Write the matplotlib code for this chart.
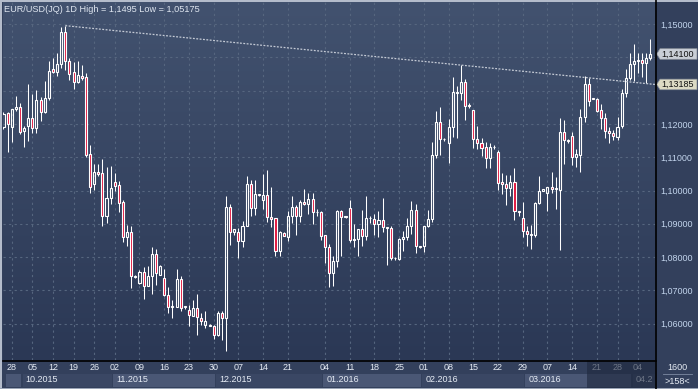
import numpy as np
import matplotlib.pyplot as plt
from matplotlib.patches import Rectangle, Polygon
from matplotlib.lines import Line2D
import matplotlib.transforms as mtransforms
from matplotlib.colors import LinearSegmentedColormap

plt.rcParams['font.family'] = ['Liberation Sans', 'DejaVu Sans']

# EUR/USD daily bars (158 visible)
open_ = [1.1190, 1.1232, 1.1192, 1.1244, 1.1250, 1.1178, 1.1195, 1.1217, 1.1187, 1.1272,
         1.1237, 1.1277, 1.1364, 1.1357, 1.1380, 1.1475, 1.1389, 1.1355, 1.1327, 1.1345,
         1.1340, 1.1109, 1.1019, 1.1057, 1.1052, 1.0922, 1.0977, 1.1027, 1.1017, 1.0965,
         1.0859, 1.0876, 1.0740, 1.0722, 1.0755, 1.0714, 1.0742, 1.0810, 1.0747, 1.0737,
         1.0687, 1.0649, 1.0649, 1.0734, 1.0650, 1.0642, 1.0624, 1.0647, 1.0617, 1.0597,
         1.0597, 1.0592, 1.0567, 1.0632, 1.0617, 1.0950, 1.0874, 1.0875, 1.0847, 1.0892,
         1.1020, 1.0947, 1.0988, 1.0972, 1.0986, 1.0920, 1.0917, 1.0817, 1.0872, 1.0859,
         1.0924, 1.0950, 1.0924, 1.0965, 1.0959, 1.0974, 1.0934, 1.0934, 1.0867, 1.0830,
         1.0752, 1.0789, 1.0937, 1.0920, 1.0947, 1.0852, 1.0854, 1.0884, 1.0862, 1.0916,
         1.0914, 1.0900, 1.0912, 1.0886, 1.0887, 1.0796, 1.0794, 1.0854, 1.0860, 1.0894,
         1.0942, 1.0830, 1.0832, 1.0894, 1.0914, 1.1107, 1.1205, 1.1154, 1.1144, 1.1190,
         1.1292, 1.1292, 1.1326, 1.1257, 1.1242, 1.1154, 1.1142, 1.1130, 1.1097, 1.1132,
         1.1115, 1.1025, 1.1020, 1.1007, 1.1025, 1.0938, 1.0917, 1.0879, 1.0865, 1.0865,
         1.0962, 1.1000, 1.0992, 1.1012, 1.1004, 1.1002, 1.1177, 1.1152, 1.1165, 1.1100,
         1.1107, 1.1222, 1.1320, 1.1277, 1.1275, 1.1242, 1.1217, 1.1180, 1.1174, 1.1160,
         1.1195, 1.1292, 1.1337, 1.1380, 1.1390, 1.1392, 1.1384, 1.1397]
high = [1.1236, 1.1236, 1.1245, 1.1284, 1.1262, 1.1195, 1.1320, 1.1290, 1.1302, 1.1282,
        1.1330, 1.1389, 1.1397, 1.1412, 1.1490, 1.1495, 1.1397, 1.1387, 1.1389, 1.1377,
        1.1352, 1.1137, 1.1080, 1.1080, 1.1094, 1.1072, 1.1074, 1.1052, 1.1030, 1.0970,
        1.0897, 1.0894, 1.0745, 1.0762, 1.0770, 1.0772, 1.0830, 1.0824, 1.0777, 1.0764,
        1.0709, 1.0672, 1.0764, 1.0742, 1.0654, 1.0657, 1.0672, 1.0689, 1.0632, 1.0639,
        1.0599, 1.0597, 1.0637, 1.0637, 1.0984, 1.0960, 1.0884, 1.0887, 1.0907, 1.1044,
        1.1032, 1.1032, 1.0991, 1.1050, 1.1062, 1.1012, 1.0917, 1.0877, 1.0874, 1.0939,
        1.0984, 1.0957, 1.0970, 1.1005, 1.0994, 1.0992, 1.0945, 1.0939, 1.0867, 1.0839,
        1.0802, 1.0942, 1.0942, 1.0924, 1.0972, 1.0899, 1.0884, 1.0942, 1.0984, 1.0922,
        1.0930, 1.0939, 1.0977, 1.0890, 1.0892, 1.0800, 1.0857, 1.0877, 1.0917, 1.0969,
        1.0960, 1.0834, 1.0894, 1.0942, 1.1145, 1.1239, 1.1250, 1.1157, 1.1215, 1.1340,
        1.1314, 1.1377, 1.1334, 1.1262, 1.1242, 1.1194, 1.1157, 1.1147, 1.1142, 1.1136,
        1.1122, 1.1054, 1.1047, 1.1047, 1.1067, 1.0938, 1.0964, 1.0894, 1.0897, 1.0964,
        1.1044, 1.1006, 1.1012, 1.1057, 1.1042, 1.1217, 1.1212, 1.1155, 1.1175, 1.1124,
        1.1244, 1.1344, 1.1337, 1.1278, 1.1277, 1.1259, 1.1232, 1.1190, 1.1182, 1.1222,
        1.1304, 1.1364, 1.1414, 1.1440, 1.1412, 1.1412, 1.1412, 1.1455]
low = [1.1186, 1.1117, 1.1147, 1.1240, 1.1170, 1.1132, 1.1150, 1.1172, 1.1172, 1.1210,
       1.1232, 1.1272, 1.1354, 1.1345, 1.1367, 1.1362, 1.1332, 1.1305, 1.1324, 1.1332,
       1.1100, 1.0994, 1.1002, 1.1045, 1.0894, 1.0902, 1.0959, 1.1000, 1.0934, 1.0844,
       1.0832, 1.0707, 1.0736, 1.0720, 1.0674, 1.0714, 1.0690, 1.0715, 1.0745, 1.0682,
       1.0632, 1.0617, 1.0649, 1.0637, 1.0644, 1.0592, 1.0622, 1.0567, 1.0597, 1.0587,
       1.0593, 1.0554, 1.0564, 1.0552, 1.0517, 1.0835, 1.0867, 1.0797, 1.0830, 1.0892,
       1.0922, 1.0927, 1.0984, 1.0945, 1.0904, 1.0890, 1.0802, 1.0802, 1.0862, 1.0847,
       1.0902, 1.0867, 1.0904, 1.0955, 1.0930, 1.0899, 1.0924, 1.0852, 1.0782, 1.0709,
       1.0712, 1.0769, 1.0802, 1.0917, 1.0845, 1.0830, 1.0802, 1.0832, 1.0852, 1.0902,
       1.0867, 1.0860, 1.0874, 1.0775, 1.0792, 1.0792, 1.0790, 1.0817, 1.0852, 1.0870,
       1.0812, 1.0828, 1.0814, 1.0890, 1.0904, 1.1097, 1.1107, 1.1150, 1.1084, 1.1160,
       1.1159, 1.1272, 1.1212, 1.1247, 1.1127, 1.1124, 1.1104, 1.1069, 1.1067, 1.1126,
       1.1002, 1.0989, 1.0957, 1.0985, 1.0910, 1.0924, 1.0859, 1.0832, 1.0824, 1.0859,
       1.0960, 1.0999, 1.0937, 1.0992, 1.0945, 1.0822, 1.1080, 1.1144, 1.1077, 1.1070,
       1.1055, 1.1207, 1.1254, 1.1275, 1.1235, 1.1185, 1.1159, 1.1144, 1.1152, 1.1152,
       1.1187, 1.1282, 1.1332, 1.1330, 1.1354, 1.1342, 1.1324, 1.1392]
close = [1.1230, 1.1200, 1.1245, 1.1250, 1.1177, 1.1188, 1.1217, 1.1187, 1.1272, 1.1237,
         1.1277, 1.1359, 1.1357, 1.1380, 1.1475, 1.1390, 1.1350, 1.1327, 1.1347, 1.1337,
         1.1107, 1.1012, 1.1057, 1.1050, 1.0922, 1.0977, 1.1007, 1.1015, 1.0962, 1.0859,
         1.0876, 1.0742, 1.0743, 1.0755, 1.0712, 1.0744, 1.0810, 1.0752, 1.0774, 1.0685,
         1.0649, 1.0652, 1.0734, 1.0647, 1.0652, 1.0627, 1.0647, 1.0620, 1.0607, 1.0607,
         1.0594, 1.0567, 1.0632, 1.0617, 1.0950, 1.0875, 1.0884, 1.0847, 1.0892, 1.1020,
         1.0947, 1.0989, 1.0990, 1.0986, 1.0920, 1.0915, 1.0817, 1.0874, 1.0864, 1.0924,
         1.0950, 1.0922, 1.0965, 1.0959, 1.0974, 1.0934, 1.0936, 1.0862, 1.0830, 1.0752,
         1.0789, 1.0937, 1.0920, 1.0922, 1.0850, 1.0855, 1.0884, 1.0862, 1.0917, 1.0918,
         1.0900, 1.0912, 1.0889, 1.0890, 1.0797, 1.0798, 1.0854, 1.0860, 1.0894, 1.0942,
         1.0832, 1.0832, 1.0894, 1.0914, 1.1107, 1.1205, 1.1154, 1.1156, 1.1190, 1.1295,
         1.1296, 1.1326, 1.1255, 1.1254, 1.1154, 1.1142, 1.1129, 1.1097, 1.1130, 1.1130,
         1.1024, 1.1019, 1.1007, 1.1025, 1.0937, 1.0934, 1.0877, 1.0869, 1.0870, 1.0962,
         1.1000, 1.1004, 1.1012, 1.1005, 1.1008, 1.1177, 1.1152, 1.1150, 1.1102, 1.1110,
         1.1222, 1.1320, 1.1270, 1.1276, 1.1240, 1.1217, 1.1180, 1.1174, 1.1165, 1.1192,
         1.1292, 1.1337, 1.1380, 1.1390, 1.1392, 1.1384, 1.1397, 1.1410]

# week ticks (bar index of each Monday) and their day labels
tick_idx = [2, 7, 12, 17, 22, 27, 33, 39, 45, 51, 57, 63, 69, 78, 84, 90, 96, 102,
            108, 114, 120, 126, 132, 138, 144, 149, 154]
tick_lbl = ['28', '05', '12', '19', '26', '02', '09', '16', '23', '30', '07', '14', '21',
            '04', '11', '18', '25', '01', '08', '15', '22', '29', '07', '14', '21', '28', '04']

# first bar of each month (last label is cut off at the chart edge)
month_start = [1, 5, 27, 52, 78, 102, 127, 153]
month_lbl = ['', '10.2015', '11.2015', '12.2015', '01.2016', '02.2016', '03.2016', '04.2']

# trend line from the October high, and the right-side price tags
trend_x = [15, 158.1]
trend_y = [1.1495, 1.13185]
tag_values = [1.14100, 1.13185]
tag_colors = ['#c9ced6', '#dcdac4']
dim_from = 142  # bars beyond this are shaded on the time axis

title = 'EUR/USD(JQ) 1D High = 1,1495 Low = 1,05175'

W, H = 698, 389
fig = plt.figure(figsize=(W / 100, H / 100), dpi=100, facecolor='#33405c')
ax = fig.add_axes([3 / W, 29 / H, 652 / W, 358 / H])
xlim = (-0.12, 158.1)
ylim = (1.04910, 1.15661)

# background gradient
grad = np.linspace(0, 1, 256).reshape(-1, 1)
cmap = LinearSegmentedColormap.from_list('bg', ['#2b3855', '#42526f'])
ax.imshow(grad, extent=[xlim[0], xlim[1], ylim[0], ylim[1]], origin='lower',
          aspect='auto', cmap=cmap, zorder=0)
ax.set_xlim(*xlim)
ax.set_ylim(*ylim)

yt = np.arange(1.06, 1.1505, 0.01)
ax.set_yticks(yt)
# the 1,14000 / 1,13000 labels sit under the price tags
ax.set_yticklabels(['' if abs(v - 1.14) < 1e-6 or abs(v - 1.13) < 1e-6
                    else f'{v:.5f}'.replace('.', ',') for v in yt])
ax.set_xticks(tick_idx)
ax.set_axisbelow(True)
ax.grid(color='#56667f', linestyle=(0, (2, 3)), linewidth=0.8)
ax.yaxis.tick_right()
ax.tick_params(axis='y', length=0, pad=4, labelsize=6.5, labelcolor='#c2d4ec')
ax.tick_params(axis='x', length=0, labelbottom=False)
for s in ax.spines.values():
    s.set_visible(False)

# candles
x = np.arange(len(close))
o = np.array(open_)
h = np.array(high)
l = np.array(low)
c = np.array(close)
up = c >= o
top = np.maximum(o, c)
bot = np.minimum(o, c)
body = np.maximum(top - bot, 0.00004)
ax.vlines(x, top, h, color='white', lw=0.75, zorder=3)
ax.vlines(x, l, bot, color='white', lw=0.75, zorder=3)
ax.bar(x[up], body[up], bottom=bot[up], width=0.5, facecolor='none',
       edgecolor='white', linewidth=0.8, zorder=4)
ax.bar(x[~up], body[~up], bottom=bot[~up], width=0.5, facecolor='#e0143c',
       edgecolor='white', linewidth=0.8, zorder=4)

ax.plot(trend_x, trend_y, color='#c5cbd6', lw=0.9, linestyle=(0, (1.5, 1.2)), zorder=5)

# price tags on the right axis
trans = mtransforms.blended_transform_factory(ax.transAxes, ax.transData)
hh = 0.00159
for val, fc in zip(tag_values, tag_colors):
    pts = [(1.0026, val), (1.0077, val + hh), (1.0644, val + hh), (1.0644, val - hh), (1.0077, val - hh)]
    ax.add_patch(Polygon(pts, closed=True, transform=trans, facecolor=fc, edgecolor='#8a909a',
                         lw=0.5, clip_on=False, zorder=10))
    ax.text(1.0092, val, f'{val:.5f}'.replace('.', ','), transform=trans, ha='left',
            va='center', fontsize=6.5, color='#111111', clip_on=False, zorder=11)

fig.text(4 / W, 1 - 9 / H, title, ha='left', va='center', fontsize=6.6, color='#dfe6f0')

# time axis strip
axb = fig.add_axes([3 / W, 0, 652 / W, 29 / H], sharex=ax)
axb.set_ylim(0, 29)
axb.axis('off')
box_colors = ['#4a5775', '#3a4764']
ends = month_start[1:] + [170]
for k, (s, e, lbl) in enumerate(zip(month_start, ends, month_lbl)):
    axb.add_patch(Rectangle((s - 0.5 + 0.15, 2), e - s - 0.3, 13,
                            facecolor=box_colors[k % 2], edgecolor='none', zorder=1))
    if lbl:
        axb.text(s - 0.5 + 0.9, 9.5, lbl, ha='left', va='center', fontsize=6.5,
                 color='#e6ecf5', zorder=2, clip_on=True)
for i, lbl in zip(tick_idx, tick_lbl):
    axb.text(i, 21, lbl, ha='center', va='center', fontsize=6.5, color='#e6ecf5', zorder=2)
axb.add_patch(Rectangle((dim_from - 0.4, 0), 30, 29, facecolor='#1e283d', alpha=0.6,
                        edgecolor='none', zorder=5))
axb.set_xlim(*xlim)

# frame lines and corner info
fig.add_artist(Line2D([3 / W, 655.5 / W], [1 - 360.5 / H] * 2, color='black', lw=1.2))
fig.add_artist(Line2D([655.5 / W] * 2, [0, 1], color='black', lw=1.2))
fig.add_artist(Rectangle((0, 1 - 1.5 / H), 1, 1.5 / H, transform=fig.transFigure,
                         facecolor='#b4bccb', edgecolor='none'))
fig.add_artist(Rectangle((0, 0), 2 / W, 1, transform=fig.transFigure,
                         facecolor='#b4bccb', edgecolor='none'))
fig.add_artist(Rectangle((0, 0), 1, 1.2 / H, transform=fig.transFigure,
                         facecolor='#9aa4b6', edgecolor='none'))
fig.text(677 / W, 1 - 367 / H, '1600', ha='center', va='center', fontsize=6.5, color='#e6ecf5')
fig.text(677 / W, 1 - 381 / H, '>158<', ha='center', va='center', fontsize=6.5, color='#e6ecf5')
fig.add_artist(Line2D([663 / W, 692 / W], [1 - 373.5 / H] * 2, color='#7d8aa2', lw=0.6))

fig.savefig('out.png', dpi=100, facecolor=fig.get_facecolor())
